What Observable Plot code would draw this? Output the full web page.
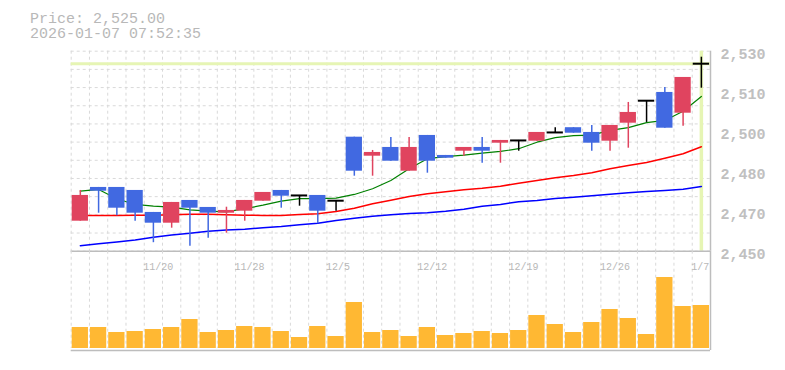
<!DOCTYPE html>
<html><head><meta charset="utf-8">
<script src="https://cdn.jsdelivr.net/npm/d3@7"></script>
<script src="https://cdn.jsdelivr.net/npm/@observablehq/plot@0.6"></script>
<style>
html,body{margin:0;padding:0;background:#fff;}
#chart{position:relative;width:785px;height:370px;overflow:hidden;font-family:"Liberation Mono",monospace;}
#title{position:absolute;left:30px;top:12px;font-size:15px;line-height:15px;color:#b8b8b8;white-space:pre;}
#price,#volume{position:absolute;left:0;}
#price{top:0;}
#volume{top:250px;}
</style></head><body>
<div id="chart"><div id="title"></div><div id="price"></div><div id="volume"></div></div>
<script>
const titleLines = ["Price: 2,525.00", "2026-01-07 07:52:35"];
const lastPrice = 2525;
const dates = ["11/14","11/17","11/18","11/19","11/20","11/21","11/25","11/26","11/27","11/28",
  "12/1","12/2","12/3","12/4","12/5","12/8","12/9","12/10","12/11","12/12",
  "12/15","12/16","12/17","12/18","12/19","12/22","12/23","12/24","12/25","12/26",
  "12/29","12/30","1/5","1/6","1/7"];
const open  = [2462.0,2475.5,2475.5,2474.3,2465.5,2461.2,2470.3,2467.5,2465.2,2466.0,
  2470.0,2474.3,2472.3,2472.3,2470.2,2495.6,2488.0,2491.5,2482.0,2496.3,
  2488.3,2490.0,2491.5,2493.2,2494.3,2494.0,2497.5,2499.4,2497.5,2494.0,
  2501.2,2510.2,2513.5,2505.2,2525.0];
const high  = [2474.3,2475.5,2475.5,2474.3,2465.5,2469.5,2470.3,2467.5,2467.6,2470.3,
  2473.5,2474.3,2472.3,2472.3,2470.2,2495.6,2490.3,2495.5,2495.5,2496.3,
  2488.3,2491.5,2495.5,2494.3,2494.3,2497.5,2499.4,2499.4,2500.3,2500.3,
  2509.5,2510.2,2515.5,2519.5,2527.6];
const low   = [2462.0,2465.2,2464.2,2462.0,2453.4,2459.2,2452.0,2455.2,2457.2,2462.0,
  2470.0,2467.2,2468.0,2461.0,2466.0,2480.0,2480.0,2486.0,2482.0,2481.2,
  2487.2,2488.0,2485.2,2485.2,2490.0,2494.0,2497.5,2497.2,2490.0,2490.0,
  2491.2,2501.5,2499.2,2500.0,2515.2];
const close = [2472.3,2474.0,2467.2,2465.2,2461.2,2469.5,2467.2,2465.2,2466.3,2470.3,
  2473.5,2472.0,2472.3,2466.0,2470.2,2482.0,2489.5,2486.0,2491.5,2486.0,
  2487.2,2491.5,2490.0,2494.3,2494.3,2497.5,2497.5,2497.2,2493.2,2500.3,
  2505.5,2510.2,2499.2,2519.5,2525.0];
const volume = [21,21,16,17,19,21,29,16,18,22,21,17,11,22,12,46,16,18,12,21,
  13,15,17,15,18,33,24,16,26,39,30,14,71,42,43];
const ma5  = [2474.0,2474.7,2471.0,2468.7,2468.0,2467.6,2466.5,2466.0,2465.7,2467.0,
  2468.4,2470.0,2471.0,2471.0,2471.2,2472.7,2475.0,2478.3,2483.0,2487.0,
  2487.8,2488.4,2489.2,2489.9,2491.0,2493.6,2495.4,2496.2,2496.4,2498.3,
  2499.4,2501.4,2502.3,2506.0,2511.9];
const ma25 = [2464.3,2464.3,2464.3,2464.4,2464.4,2464.6,2464.8,2464.8,2464.6,2464.4,
  2464.3,2464.3,2464.7,2465.0,2465.9,2467.2,2469.0,2470.4,2471.9,2473.0,
  2473.8,2474.6,2475.2,2476.0,2477.2,2478.3,2479.4,2480.3,2481.4,2483.0,
  2484.3,2485.5,2487.2,2489.0,2491.8];
const ma75 = [2452.2,2453.0,2453.7,2454.5,2455.6,2456.5,2457.2,2458.0,2458.5,2458.8,
  2459.4,2459.9,2460.6,2461.2,2462.3,2463.2,2464.0,2464.6,2465.1,2465.4,
  2466.0,2466.8,2468.0,2468.7,2469.8,2470.3,2471.1,2471.6,2472.2,2472.8,
  2473.4,2473.9,2474.3,2474.8,2475.9];
const yDomain = [2450, 2530];
const yTicks = [2450, 2466, 2482, 2498, 2514, 2530];
const xLabels = ["11/20","11/28","12/5","12/12","12/19","12/26","1/7"];
const volDomain = [0, 97.3];

const UP = "#e0445f", DOWN = "#4169e1", DOJI = "#000000";
const GRID = "#d9d9d9", AXIS = "#bdbdbd", PRICE_LINE = "#e6f5b4", VOL = "#ffb833";

document.getElementById("title").textContent = titleLines.join("\n");

const rows = dates.map((d, i) => ({date: d, open: open[i], high: high[i], low: low[i], close: close[i],
  volume: volume[i], ma5: ma5[i], ma25: ma25[i], ma75: ma75[i]}));
const colorOf = d => d.close > d.open ? UP : d.close < d.open ? DOWN : DOJI;

const W = 785, ML = 70.7, MR = 75;
const bw = (W - ML - MR) / dates.length;
const last = dates[dates.length - 1];
const gridY = d3.range(12).map(i => yDomain[0] + i * (yDomain[1] - yDomain[0]) / 11);
const fmt = d3.format(",");

const price = Plot.plot({
  width: W, height: 270,
  marginLeft: ML, marginRight: MR, marginTop: 50.7, marginBottom: 19.3,
  style: {background: "transparent", color: "#c0c0c0", fontFamily: "Liberation Mono", overflow: "visible"},
  x: {type: "band", domain: dates, padding: 0, round: false, axis: null},
  y: {domain: yDomain},
  color: {type: "identity"},
  marks: [
    Plot.ruleY(gridY, {stroke: GRID, strokeDasharray: "3,3"}),
    Plot.ruleX(dates, {x: d => d, dx: -bw / 2, stroke: GRID, strokeDasharray: "3,3"}),
    Plot.ruleY([lastPrice], {stroke: PRICE_LINE, strokeWidth: 3}),
    Plot.ruleX([last], {stroke: PRICE_LINE, strokeWidth: 3.5}),
    Plot.ruleY([yDomain[0]], {stroke: AXIS, strokeWidth: 1.5}),
    Plot.ruleX([last], {dx: bw / 2, stroke: AXIS, strokeWidth: 1.5}),
    Plot.line(rows, {x: "date", y: "ma75", stroke: "#0000ff", strokeWidth: 1.5}),
    Plot.line(rows, {x: "date", y: "ma25", stroke: "#ff0000", strokeWidth: 1.5}),
    Plot.line(rows, {x: "date", y: "ma5", stroke: "#008000", strokeWidth: 1.2}),
    Plot.ruleX(rows, {x: "date", y1: "low", y2: "high", stroke: colorOf, strokeWidth: 1.5}),
    Plot.barY(rows.filter(d => d.open !== d.close), {x: "date", y1: "open", y2: "close", fill: colorOf, insetLeft: 1, insetRight: 1}),
    Plot.tickY(rows.filter(d => d.open === d.close), {x: "date", y: "close", stroke: DOJI, strokeWidth: 2, insetLeft: 1, insetRight: 1}),
    Plot.axisY(yTicks, {anchor: "right", tickSize: 0, tickPadding: 10, color: "#c0c0c0",
      tickFormat: d => fmt(Math.round(d / 10) * 10), fontSize: 15, fontWeight: "bold", dy: 2.5, label: null})
  ]
});
document.getElementById("price").appendChild(price);

const vol = Plot.plot({
  width: W, height: 120,
  marginLeft: ML, marginRight: MR, marginTop: 0.7, marginBottom: 22,
  style: {background: "transparent", color: "#b8b8b8", fontFamily: "Liberation Mono", overflow: "visible"},
  x: {type: "band", domain: dates, padding: 0, round: false, axis: null},
  y: {domain: volDomain, axis: null},
  marks: [
    Plot.ruleX(dates, {x: d => d, dx: -bw / 2, stroke: GRID, strokeDasharray: "3,3"}),
    Plot.barY(rows, {x: "date", y: "volume", fill: VOL, insetLeft: 1, insetRight: 1}),
    Plot.ruleY([0], {dy: 2, stroke: AXIS, strokeWidth: 1.5}),
    Plot.ruleX([last], {dx: bw / 2, stroke: AXIS, strokeWidth: 1.5, insetBottom: -2}),
    Plot.text(xLabels, {x: d => d, frameAnchor: "top", dy: 11.5, dx: -bw / 2 - 1, textAnchor: "start", fill: "#b8b8b8", fontSize: 10})
  ]
});
document.getElementById("volume").appendChild(vol);
</script>
</body></html>
